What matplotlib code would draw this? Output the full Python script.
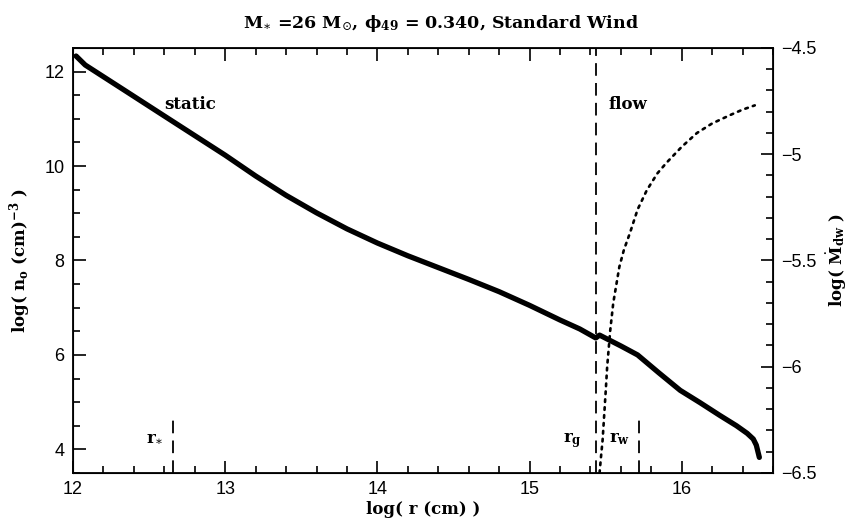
import numpy as np
import matplotlib
matplotlib.use('Agg')
import matplotlib.pyplot as plt
from matplotlib.ticker import MultipleLocator, FuncFormatter

plt.rcParams['mathtext.fontset'] = 'dejavuserif'

# density profile log n0 vs log r (left axis)
logr_n = [12.02, 12.08, 12.35, 12.6, 13.0, 13.2, 13.4, 13.6, 13.8, 14.0,
          14.2, 14.4, 14.6, 14.8, 15.0, 15.2, 15.33, 15.435, 15.46,
          15.6, 15.71, 15.85, 15.99, 16.12, 16.25, 16.36, 16.43, 16.47,
          16.49, 16.51]
logn = [12.33, 12.14, 11.58, 11.06, 10.23, 9.79, 9.38, 9.01, 8.67, 8.37,
        8.10, 7.85, 7.60, 7.34, 7.05, 6.74, 6.55, 6.36, 6.42,
        6.19, 6.00, 5.62, 5.25, 4.99, 4.72, 4.50, 4.34, 4.22,
        4.09, 3.83]

# mass loss rate log Mdot_dw vs log r (right axis)
logr_m = [15.46, 15.47, 15.48, 15.50, 15.51, 15.53, 15.55, 15.59, 15.62,
          15.66, 15.71, 15.77, 15.84, 15.90, 16.00, 16.10, 16.20, 16.32,
          16.40, 16.48]
logmdot = [-6.50, -6.42, -6.345, -6.12, -6.00, -5.83, -5.70, -5.53, -5.45,
           -5.37, -5.26, -5.17, -5.09, -5.04, -4.965, -4.90, -4.855, -4.815,
           -4.79, -4.77]

# characteristic radii
r_star = 12.66
r_g = 15.435
r_w = 15.72

serif = 'DejaVu Serif'
tickfont = 'Liberation Sans'

fig = plt.figure(figsize=(8.54, 5.2), dpi=100)
ax = fig.add_axes([0.0855, 0.0904, 0.8197, 0.8173])

ax.plot(logr_n, logn, color='black', lw=3.8, solid_capstyle='round',
        solid_joinstyle='round')
ax.axvline(r_g, color='black', lw=1.3, dashes=(7, 4))
ax.plot([r_star, r_star], [3.5, 4.68], color='black', lw=1.3, dashes=(7, 4))
ax.plot([r_w, r_w], [3.5, 4.68], color='black', lw=1.3, dashes=(7, 4))

ax.set_xlim(12, 16.6)
ax.set_ylim(3.5, 12.5)

ax.xaxis.set_major_locator(MultipleLocator(1))
ax.xaxis.set_minor_locator(MultipleLocator(0.2))
ax.yaxis.set_major_locator(MultipleLocator(2))
ax.yaxis.set_minor_locator(MultipleLocator(0.5))
ax.tick_params(which='both', direction='in', top=True, right=False, width=1.2)
ax.tick_params(which='major', length=9, labelsize=13, pad=6)
ax.tick_params(which='minor', length=5)
for lab in ax.get_xticklabels() + ax.get_yticklabels():
    lab.set_family(tickfont)
for s in ax.spines.values():
    s.set_linewidth(1.3)

ax2 = ax.twinx()
ax2.plot(logr_m, logmdot, color='black', lw=1.9, linestyle=(0, (1, 2)),
         dash_capstyle='round')
ax2.set_ylim(-6.5, -4.5)
ax2.yaxis.set_major_locator(MultipleLocator(0.5))
ax2.yaxis.set_minor_locator(MultipleLocator(0.1))
ax2.yaxis.set_major_formatter(
    FuncFormatter(lambda v, p: ('%g' % v).replace('-', '\u2212')))
ax2.tick_params(which='both', direction='in', width=1.2)
ax2.tick_params(which='major', length=9, labelsize=13, pad=6)
ax2.tick_params(which='minor', length=5)
for lab in ax2.get_yticklabels():
    lab.set_family(tickfont)

ax.text(12.6, 11.2, 'static', fontsize=12, fontweight='bold', family=serif)
ax.text(15.52, 11.2, 'flow', fontsize=12, fontweight='bold', family=serif)
ax.text(12.48, 4.15, r'r$_{\ast}$', fontsize=12, fontweight='bold', family=serif)
ax.text(15.22, 4.15, r'r$_{\mathbf{g}}$', fontsize=12, fontweight='bold', family=serif)
ax.text(15.52, 4.15, r'r$_{\mathbf{w}}$', fontsize=12, fontweight='bold', family=serif)

ax.set_xlabel('log( r (cm) )', fontsize=12, fontweight='bold', family=serif,
              labelpad=2)
ax.set_ylabel(r'log( n$_{\mathbf{o}}$ (cm)$^{\mathbf{-3}}$ )', fontsize=12,
              fontweight='bold', family=serif, labelpad=8)
ax2.set_ylabel(r'log( $\dot{\mathbf{M}}_{\mathbf{dw}}$ )', fontsize=12,
               fontweight='bold', family=serif, rotation=90, labelpad=6)

fig.text(0.516, 0.955,
         r'M$_{\ast}$ =26 M$_{\odot}$, $\mathbf{\phi}_{\mathbf{49}}$ = 0.340, Standard Wind',
         ha='center', va='center', fontsize=12.5, fontweight='bold', family=serif)

fig.savefig('out.png', dpi=100)
